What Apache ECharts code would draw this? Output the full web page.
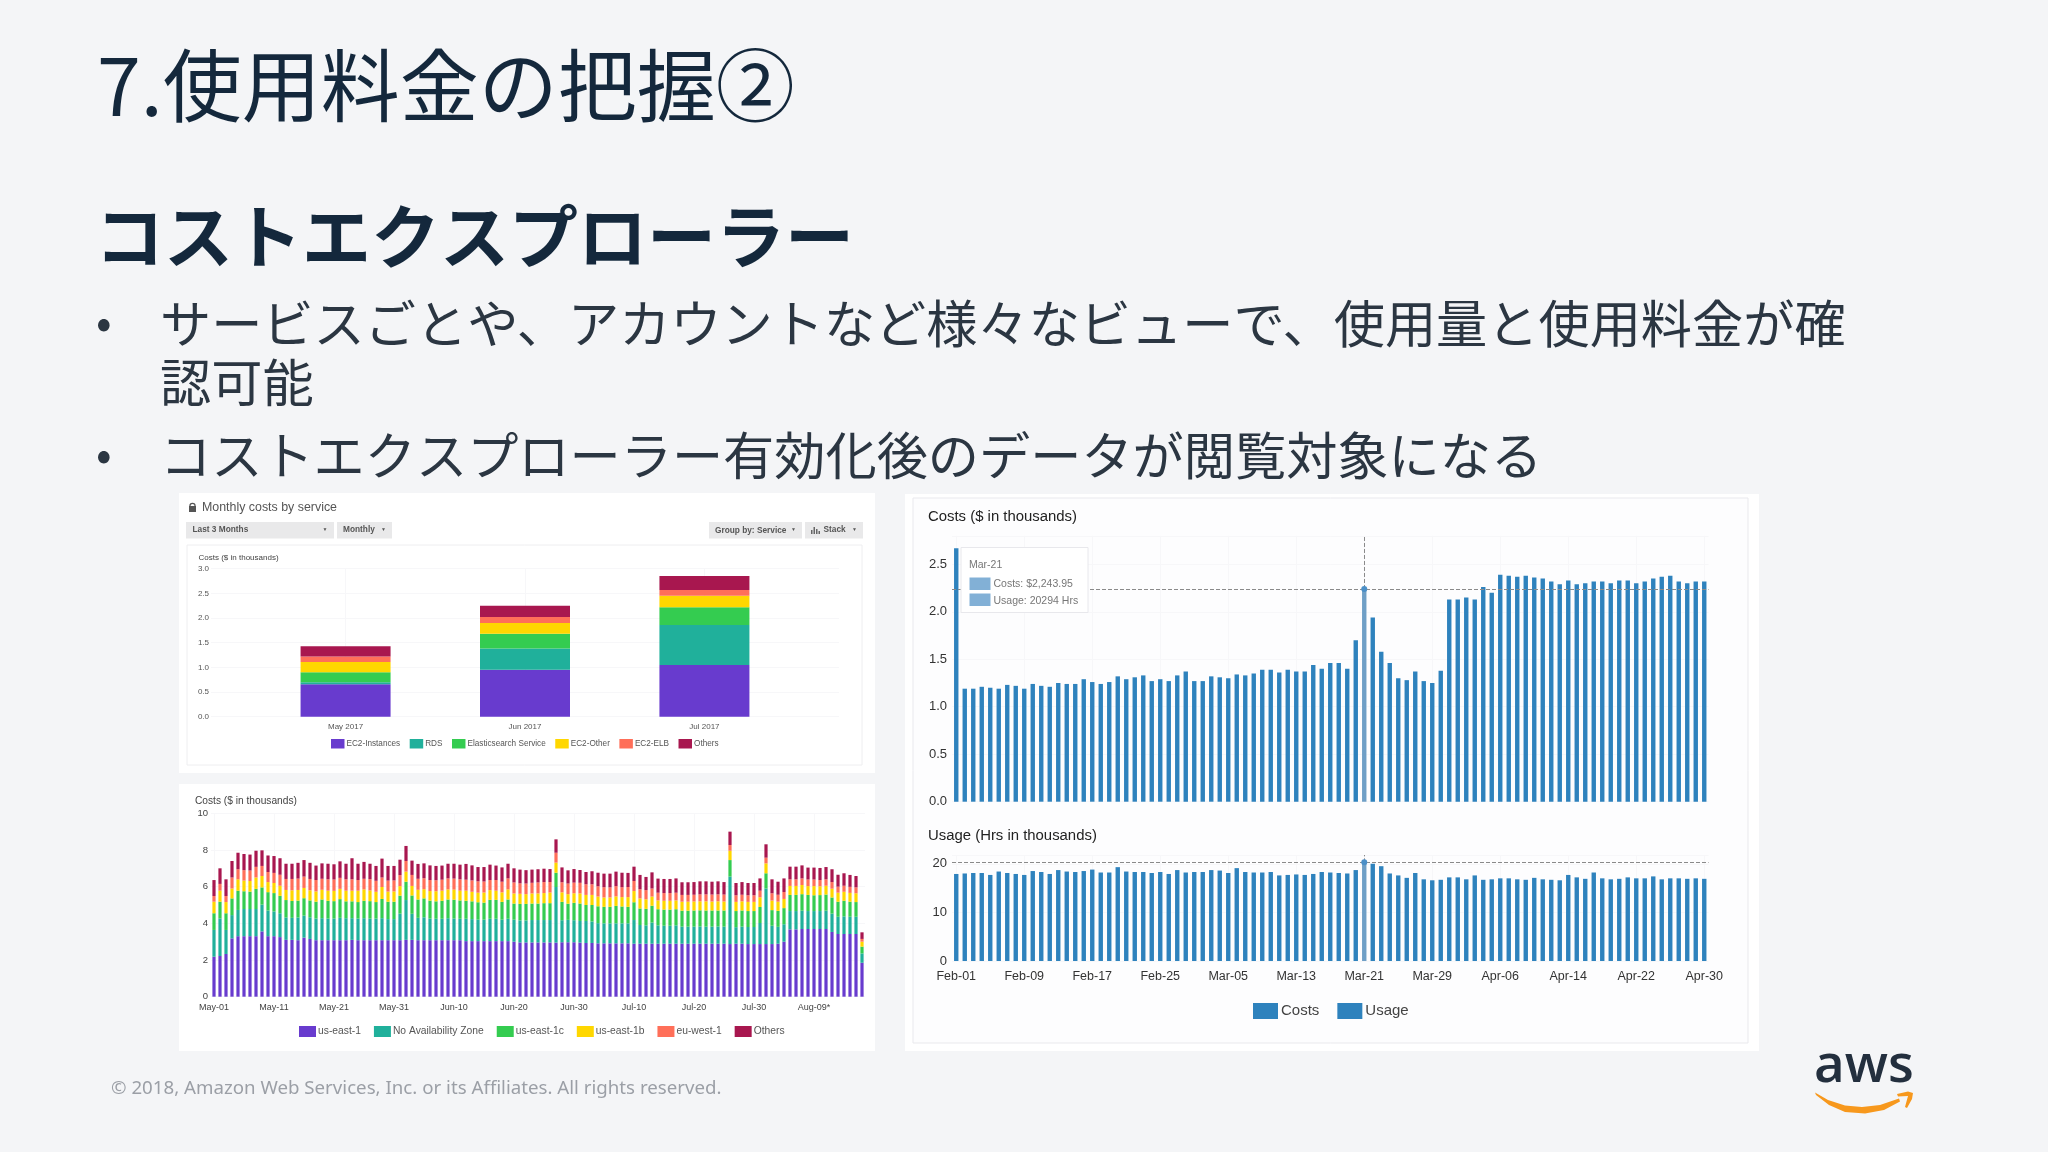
<!DOCTYPE html>
<html lang="ja">
<head>
<meta charset="utf-8">
<title>7.使用料金の把握②</title>
<script src="https://cdn.jsdelivr.net/npm/echarts@6/dist/echarts.min.js"></script>
<style>
    html, body { margin: 0; padding: 0; background: #f4f5f7; }
    #chart { width: 2048px; height: 1152px; }
</style>
</head>
<body>
<div id="chart"></div>
<script>
// Monthly costs by service
const monthNames = ['May 2017', 'Jun 2017', 'Jul 2017'];
const monthlyEc2Instances = [0.66, 0.95, 1.05];
const monthlyRds = [0.04, 0.43, 0.81];
const monthlyElasticsearch = [0.20, 0.30, 0.36];
const monthlyEc2Other = [0.21, 0.22, 0.23];
const monthlyEc2Elb = [0.11, 0.12, 0.12];
const monthlyOthers = [0.21, 0.23, 0.28];
const monthlyNames = ['EC2-Instances', 'RDS', 'Elasticsearch Service', 'EC2-Other', 'EC2-ELB', 'Others'];

// Daily costs by availability zone, May-01 to Aug-17
const dailyEast1 = [
    2.18, 2.22, 2.33, 3.18, 3.30, 3.30, 3.30, 3.30, 3.56, 3.30,
    3.30, 3.25, 3.10, 3.10, 3.08, 3.22, 3.15, 3.08, 3.08, 3.08,
    3.08, 3.08, 3.08, 3.10, 3.08, 3.08, 3.08, 3.08, 3.08, 3.08,
    3.08, 3.08, 3.10, 3.10, 3.08, 3.08, 3.08, 3.08, 3.08, 3.08,
    3.08, 3.08, 3.03, 3.03, 3.03, 3.03, 3.03, 3.03, 3.03, 3.03,
    3.00, 2.96, 2.96, 2.96, 2.96, 2.96, 2.96, 2.95, 2.97, 2.97,
    2.97, 2.95, 2.93, 2.93, 2.91, 2.91, 2.91, 2.91, 2.91, 2.91,
    2.89, 2.89, 2.89, 2.89, 2.89, 2.89, 2.89, 2.89, 2.89, 2.89,
    2.89, 2.89, 2.89, 2.89, 2.89, 2.89, 2.87, 2.89, 2.89, 2.87,
    2.87, 2.87, 2.87, 2.87, 2.89, 3.00, 3.67, 3.67, 3.69, 3.69,
    3.69, 3.69, 3.69, 3.53, 3.42, 3.42, 3.42, 3.42, 1.85
];
const dailyNoZone = [
    1.46, 2.05, 1.31, 1.27, 1.43, 1.48, 1.48, 1.48, 1.46, 1.40,
    1.35, 1.30, 1.22, 1.20, 1.24, 1.20, 1.18, 1.18, 1.20, 1.18,
    1.18, 1.22, 1.20, 1.18, 1.18, 1.20, 1.18, 1.18, 1.20, 1.15,
    1.15, 1.45, 2.17, 1.42, 1.22, 1.25, 1.18, 1.17, 1.17, 1.20,
    1.18, 1.17, 1.22, 1.20, 1.17, 1.17, 1.22, 1.22, 1.17, 1.22,
    1.20, 1.20, 1.20, 1.22, 1.22, 1.22, 1.22, 3.03, 1.20, 1.22,
    1.20, 1.18, 1.20, 1.17, 1.10, 1.09, 1.09, 1.09, 1.09, 1.09,
    1.29, 1.02, 1.00, 1.15, 1.00, 0.98, 0.98, 1.00, 0.93, 0.93,
    0.93, 0.94, 0.93, 0.93, 0.94, 0.93, 3.68, 0.90, 0.93, 0.93,
    0.93, 1.15, 3.03, 1.00, 0.92, 0.95, 1.00, 1.00, 1.00, 0.98,
    0.98, 0.98, 1.00, 1.00, 0.94, 0.96, 0.94, 0.94, 0.51
];
const dailyEast1c = [
    0.91, 0.91, 0.91, 0.91, 1.05, 0.97, 0.95, 1.10, 0.94, 1.00,
    1.00, 0.95, 0.95, 0.92, 0.92, 0.95, 0.92, 0.92, 1.02, 0.97,
    0.95, 1.02, 0.92, 0.92, 0.90, 0.95, 0.95, 0.90, 1.05, 0.95,
    0.95, 0.98, 1.00, 1.00, 1.00, 1.03, 0.98, 0.95, 0.98, 1.02,
    1.03, 1.00, 0.98, 0.97, 0.95, 0.93, 1.03, 1.03, 0.97, 1.05,
    0.88, 0.90, 0.90, 0.90, 0.90, 0.92, 0.92, 0.78, 1.00, 0.88,
    0.95, 0.95, 0.87, 0.90, 0.92, 0.90, 0.90, 0.95, 0.92, 0.90,
    0.97, 0.90, 0.90, 0.92, 0.88, 0.88, 0.88, 0.88, 0.87, 0.87,
    0.88, 0.88, 0.88, 0.88, 0.87, 0.88, 0.90, 0.88, 0.88, 0.87,
    0.87, 0.87, 0.83, 0.85, 0.87, 0.88, 0.88, 0.88, 0.90, 0.88,
    0.86, 0.87, 0.88, 0.88, 0.82, 0.85, 0.82, 0.80, 0.37
];
const dailyEast1b = [
    0.63, 0.60, 0.61, 0.54, 0.62, 0.58, 0.58, 0.62, 0.62, 0.55,
    0.55, 0.55, 0.55, 0.58, 0.58, 0.56, 0.55, 0.56, 0.53, 0.55,
    0.56, 0.56, 0.58, 0.58, 0.62, 0.62, 0.58, 0.56, 0.65, 0.55,
    0.56, 0.52, 0.55, 0.52, 0.53, 0.50, 0.52, 0.55, 0.55, 0.55,
    0.55, 0.53, 0.55, 0.52, 0.52, 0.55, 0.53, 0.50, 0.52, 0.55,
    0.55, 0.55, 0.53, 0.55, 0.55, 0.55, 0.58, 0.55, 0.52, 0.52,
    0.52, 0.55, 0.55, 0.55, 0.53, 0.51, 0.51, 0.52, 0.51, 0.53,
    0.61, 0.55, 0.52, 0.50, 0.48, 0.48, 0.48, 0.48, 0.49, 0.49,
    0.49, 0.49, 0.50, 0.49, 0.50, 0.49, 0.51, 0.50, 0.50, 0.50,
    0.50, 0.53, 0.54, 0.52, 0.50, 0.50, 0.49, 0.49, 0.50, 0.48,
    0.50, 0.48, 0.48, 0.48, 0.49, 0.49, 0.48, 0.48, 0.27
];
const dailyWest1 = [
    0.31, 0.37, 0.33, 0.60, 0.55, 0.57, 0.57, 0.58, 0.55, 0.55,
    0.55, 0.60, 0.60, 0.62, 0.62, 0.62, 0.62, 0.62, 0.60, 0.62,
    0.62, 0.60, 0.62, 0.62, 0.58, 0.58, 0.62, 0.60, 0.52, 0.60,
    0.60, 0.60, 0.58, 0.60, 0.60, 0.60, 0.60, 0.60, 0.60, 0.60,
    0.60, 0.62, 0.60, 0.62, 0.62, 0.60, 0.55, 0.58, 0.58, 0.60,
    0.60, 0.57, 0.58, 0.58, 0.60, 0.60, 0.57, 0.54, 0.55, 0.58,
    0.58, 0.58, 0.58, 0.58, 0.56, 0.56, 0.55, 0.56, 0.54, 0.55,
    0.55, 0.50, 0.50, 0.44, 0.42, 0.42, 0.42, 0.42, 0.37, 0.37,
    0.37, 0.38, 0.38, 0.38, 0.38, 0.38, 0.31, 0.36, 0.36, 0.36,
    0.36, 0.36, 0.31, 0.40, 0.38, 0.38, 0.36, 0.36, 0.36, 0.36,
    0.36, 0.34, 0.35, 0.36, 0.33, 0.33, 0.33, 0.32, 0.15
];
const dailyOthers = [
    0.87, 0.85, 0.91, 0.90, 0.90, 0.88, 0.87, 0.88, 0.85, 0.90,
    0.92, 0.90, 0.83, 0.83, 0.86, 0.90, 0.88, 0.79, 0.84, 0.85,
    0.83, 0.90, 0.85, 1.15, 0.89, 0.92, 0.84, 0.81, 1.03, 0.80,
    0.79, 0.84, 0.82, 0.78, 0.81, 0.81, 0.80, 0.78, 0.77, 0.80,
    0.81, 0.80, 0.86, 0.82, 0.78, 0.79, 0.84, 0.79, 0.78, 0.80,
    0.77, 0.75, 0.73, 0.72, 0.72, 0.73, 0.71, 0.73, 0.81, 0.72,
    0.74, 0.70, 0.67, 0.71, 0.74, 0.74, 0.75, 0.79, 0.79, 0.77,
    0.78, 0.78, 0.72, 0.88, 0.77, 0.77, 0.77, 0.78, 0.69, 0.69,
    0.69, 0.71, 0.71, 0.70, 0.71, 0.68, 0.73, 0.67, 0.69, 0.67,
    0.67, 0.67, 0.73, 0.76, 0.71, 0.74, 0.69, 0.69, 0.71, 0.65,
    0.65, 0.66, 0.67, 0.70, 0.65, 0.68, 0.65, 0.62, 0.36
];
const dailyNames = ['us-east-1', 'No Availability Zone', 'us-east-1c', 'us-east-1b', 'eu-west-1', 'Others'];

// Costs and usage, Feb-01 to Apr-30
const costValues = [
    2.67, 1.19, 1.19, 1.21, 1.20, 1.19, 1.23, 1.22, 1.19, 1.24,
    1.22, 1.21, 1.25, 1.24, 1.24, 1.29, 1.26, 1.24, 1.26, 1.32,
    1.29, 1.31, 1.33, 1.27, 1.29, 1.27, 1.33, 1.37, 1.27, 1.27,
    1.32, 1.31, 1.30, 1.34, 1.33, 1.35, 1.39, 1.39, 1.36, 1.39,
    1.37, 1.37, 1.44, 1.40, 1.46, 1.46, 1.40, 1.70, 2.24, 1.94,
    1.58, 1.46, 1.30, 1.28, 1.37, 1.27, 1.25, 1.38, 2.13, 2.13,
    2.15, 2.13, 2.26, 2.20, 2.39, 2.38, 2.37, 2.38, 2.36, 2.35,
    2.32, 2.29, 2.33, 2.29, 2.30, 2.32, 2.32, 2.30, 2.33, 2.33,
    2.30, 2.32, 2.35, 2.37, 2.38, 2.32, 2.30, 2.32, 2.32
];
const usageValues = [
    17.9, 18.0, 18.1, 18.1, 17.7, 18.4, 18.1, 17.9, 17.7, 18.5,
    18.3, 17.9, 18.7, 18.4, 18.3, 18.5, 18.8, 18.2, 18.2, 19.3,
    18.4, 18.3, 18.3, 18.1, 18.3, 17.9, 18.7, 18.2, 18.3, 18.3,
    18.7, 18.6, 18.1, 19.1, 18.3, 18.2, 18.2, 18.3, 17.6, 17.7,
    17.8, 17.7, 17.9, 18.3, 18.2, 18.1, 18.0, 18.7, 20.29, 20.0,
    19.5, 18.0, 17.6, 17.1, 18.1, 16.8, 16.6, 16.7, 17.2, 17.2,
    16.8, 17.6, 16.7, 16.8, 17.0, 17.0, 16.8, 16.7, 17.1, 16.8,
    16.7, 16.6, 17.7, 17.2, 16.9, 18.2, 17.0, 16.8, 16.9, 17.2,
    17.0, 17.0, 17.4, 16.8, 17.0, 17.0, 16.9, 17.0, 16.9
];
const highlightDay = 'Mar-21';
const highlightCost = 2.24;
const highlightUsage = 20.29;

// Tick labels
const dailyDays = dayLabels('May', 31).concat(dayLabels('Jun', 30), dayLabels('Jul', 31), dayLabels('Aug', 17));
dailyDays[100] = 'Aug-09*';
const usageDays = dayLabels('Feb', 28).concat(dayLabels('Mar', 31), dayLabels('Apr', 30));

const serviceColors = ['#683bce', '#20b09b', '#34cc50', '#ffd700', '#ff6f59', '#a8174f'];
const barBlue = '#2e82bd';
const fontLatin = '"Liberation Sans", Arial, sans-serif';
const fontJa = '"Noto Sans CJK JP", sans-serif';
const gridLine = '#f7f7f9';

function dayLabels(month, days) {
    const labels = [];
    for (let d = 1; d <= days; d++) {
        labels.push(month + '-' + (d < 10 ? '0' + d : d));
    }
    return labels;
}

// Text element for the graphic layer
function text(x, y, content, size, color, extra) {
    const el = {
        type: 'text',
        x: x,
        y: y,
        z: 100,
        style: Object.assign({
            text: content,
            fontSize: size,
            fontFamily: fontLatin,
            fill: color,
            verticalAlign: 'middle'
        }, extra || {})
    };
    return el;
}

function box(x, y, w, h, fill, stroke, z) {
    return {
        type: 'rect',
        z: z,
        shape: { x: x, y: y, width: w, height: h },
        style: { fill: fill, stroke: stroke || 'none', lineWidth: 1 }
    };
}

// Slide text, panels and the logo
function slideElements() {
    const bulletColor = '#2b3642';
    const titleColor = '#14283c';
    const els = [
        // panels
        box(179, 493, 696, 280, '#ffffff', null, -20),
        box(187, 545, 675, 220, '#ffffff', '#eeeef0', -19),
        box(179, 784, 696, 267, '#ffffff', null, -20),
        box(905, 494, 854, 557, '#ffffff', null, -20),
        box(913, 498, 835, 545, '#fdfdfe', '#e9e9ed', -19),

        // heading and bullets
        text(97, 86, '7.使用料金の把握②', 79, titleColor, { fontFamily: fontJa }),
        text(95, 237, 'コストエクスプローラー', 69, titleColor, { fontFamily: fontJa, fontWeight: 'bold' }),
        text(96, 322, '•', 46, bulletColor, { fontFamily: fontJa }),
        text(160, 324, 'サービスごとや、アカウントなど様々なビューで、使用量と使用料金が確', 51.2, bulletColor, { fontFamily: fontJa }),
        text(160, 383, '認可能', 51.2, bulletColor, { fontFamily: fontJa }),
        text(96, 454, '•', 46, bulletColor, { fontFamily: fontJa }),
        text(160, 456, 'コストエクスプローラー有効化後のデータが閲覧対象になる', 51.2, bulletColor, { fontFamily: fontJa }),

        // toolbar of the monthly panel
        box(189, 506, 7, 6, '#555555', null, 100),
        { type: 'arc', z: 100, shape: { cx: 192.5, cy: 506, r: 2.6, startAngle: Math.PI, endAngle: 0 }, style: { stroke: '#555555', fill: 'none', lineWidth: 1.2 } },
        text(202, 507.5, 'Monthly costs by service', 12.4, '#555555'),
        box(186, 522, 148, 16.5, '#e9e9ea', null, -18),
        box(337, 522, 55, 16.5, '#e9e9ea', null, -18),
        box(709, 522, 93, 16.5, '#e9e9ea', null, -18),
        box(805, 522, 58, 16.5, '#e9e9ea', null, -18),
        text(192.5, 530, 'Last 3 Months', 8.3, '#555555', { fontWeight: 'bold' }),
        text(343, 530, 'Monthly', 8.3, '#555555', { fontWeight: 'bold' }),
        text(715, 530.5, 'Group by: Service', 8.3, '#555555', { fontWeight: 'bold' }),
        text(823.5, 530, 'Stack', 8.3, '#555555', { fontWeight: 'bold' }),
        text(322.5, 530, '▼', 5, '#555555'),
        text(381, 530, '▼', 5, '#555555'),
        text(791, 530, '▼', 5, '#555555'),
        text(852, 530, '▼', 5, '#555555'),
        box(811, 530, 1.5, 4, '#666666', null, 100),
        box(813.5, 527, 1.5, 7, '#666666', null, 100),
        box(816, 529, 1.5, 5, '#666666', null, 100),
        box(818.5, 531, 1.5, 3, '#666666', null, 100),

        // axis titles
        text(198.5, 557.5, 'Costs ($ in thousands)', 8, '#444444'),
        text(195, 801, 'Costs ($ in thousands)', 10.2, '#444444'),
        text(928, 517, 'Costs ($ in thousands)', 14.9, '#222222'),
        text(928, 836, 'Usage (Hrs in thousands)', 14.9, '#222222'),

        // pinned tooltip
        box(961, 547.5, 127, 65, '#ffffff', '#e8e8ec', 90),
        text(969, 565, highlightDay, 10.5, '#777777'),
        box(969.5, 577.5, 21, 12.5, '#82b0d6', null, 100),
        box(969.5, 593.5, 21, 12.5, '#82b0d6', null, 100),
        text(993.5, 584.5, 'Costs: $2,243.95', 10.5, '#777777'),
        text(993.5, 601, 'Usage: 20294 Hrs', 10.5, '#777777'),

        // footer and logo
        text(111, 1089, '© 2018, Amazon Web Services, Inc. or its Affiliates. All rights reserved.', 18.7, '#9b9fa6', { fontFamily: '"Noto Sans", sans-serif' }),
        text(1864, 1067, 'aws', 53, '#232f3e', { fontFamily: '"Open Sans", sans-serif', textAlign: 'center', fontWeight: 600 }),
        {
            type: 'polygon',
            z: 100,
            shape: {
                points: [[1815, 1092.5], [1828, 1100], [1845, 1105.5], [1862, 1107], [1880, 1105], [1899, 1098.5], [1900, 1101.5], [1884, 1110], [1865, 1113.5], [1845, 1112], [1829, 1105], [1816, 1095]]
            },
            style: { fill: '#f7981d' }
        },
        {
            type: 'polygon',
            z: 100,
            shape: { points: [[1897, 1094], [1908, 1091.5], [1913, 1093], [1912, 1099], [1907, 1108], [1905, 1107], [1908, 1096], [1898, 1096.5]] },
            style: { fill: '#f7981d' }
        }
    ];
    return els;
}

// The monthly bars sit on half bands so they land where the panel has them
function padMonths(values, blank) {
    return [blank, values[0], blank, values[1], blank, values[2], blank];
}

function stackSeries(name, values, color, axisIndex, stackName, barWidth) {
    return {
        name: name,
        type: 'bar',
        stack: stackName,
        xAxisIndex: axisIndex,
        yAxisIndex: axisIndex,
        barWidth: barWidth,
        itemStyle: { color: color },
        data: values
    };
}

function highlighted(values) {
    return values.map(function(value, i) {
        if (usageDays[i] === highlightDay) {
            return { value: value, itemStyle: { color: '#6f9fc6' } };
        }
        return value;
    });
}

// Dashed crosshair and dot on the highlighted day
function crosshairSeries(name, values, axisIndex, peak, axisMax) {
    return {
        name: name,
        type: 'bar',
        xAxisIndex: axisIndex,
        yAxisIndex: axisIndex,
        barWidth: 4.4,
        itemStyle: { color: barBlue },
        data: highlighted(values),
        markLine: {
            silent: true,
            symbol: 'none',
            label: { show: false },
            lineStyle: { type: 'dashed', color: '#8a8a8a', width: 1 },
            data: [
                { yAxis: peak },
                [{ coord: [highlightDay, peak] }, { coord: [highlightDay, axisMax] }]
            ]
        },
        markPoint: {
            silent: true,
            symbol: 'circle',
            symbolSize: 6,
            label: { show: false },
            itemStyle: { color: '#4b8fc7' },
            data: [{ coord: [highlightDay, peak] }]
        }
    };
}

function categoryAxis(gridIndex, data, labelSize, labelMargin, labelEvery, lineInterval, labelColor, showLabel) {
    return {
        type: 'category',
        gridIndex: gridIndex,
        data: data,
        axisLine: { show: false },
        axisTick: { show: false },
        axisLabel: { show: showLabel, interval: labelEvery - 1, fontSize: labelSize, margin: labelMargin, color: labelColor, hideOverlap: false },
        splitLine: { show: true, interval: lineInterval, alignWithLabel: true, lineStyle: { color: gridLine } }
    };
}

function valueAxis(gridIndex, max, interval, labelSize, labelMargin, decimals, labelColor) {
    return {
        type: 'value',
        gridIndex: gridIndex,
        min: 0,
        max: max,
        interval: interval,
        axisLine: { show: false },
        axisTick: { show: false },
        axisLabel: {
            fontSize: labelSize,
            margin: labelMargin,
            color: labelColor,
            showMaxLabel: max % interval === 0,
            formatter: function(value) {
                return value.toFixed(decimals);
            }
        },
        splitLine: { show: true, lineStyle: { color: gridLine } }
    };
}

const monthlyData = [monthlyEc2Instances, monthlyRds, monthlyElasticsearch, monthlyEc2Other, monthlyEc2Elb, monthlyOthers];
const dailyData = [dailyEast1, dailyNoZone, dailyEast1c, dailyEast1b, dailyWest1, dailyOthers];

const chart = echarts.init(document.getElementById('chart'));

const option = {
    animation: false,
    backgroundColor: '#f4f5f7',
    textStyle: { fontFamily: fontLatin },
    graphic: { elements: slideElements() },
    grid: [
        { left: 211, top: 568.7, width: 628, height: 148 },
        { left: 211, top: 813.3, width: 654, height: 183.4 },
        { left: 952, top: 535.8, width: 756.5, height: 265.9 },
        { left: 952, top: 855, width: 756.5, height: 106 }
    ],
    xAxis: [
        categoryAxis(0, padMonths(monthNames, ''), 8, 6, 1, function(index) { return index % 2 === 1; }, '#555555', true),
        categoryAxis(1, dailyDays, 9, 6, 10, 9, '#444444', true),
        categoryAxis(2, usageDays, 12.5, 9, 8, 7, '#333333', false),
        categoryAxis(3, usageDays, 12.5, 9, 8, 7, '#333333', true)
    ],
    yAxis: [
        valueAxis(0, 3, 0.5, 8, 2, 1, '#555555'),
        valueAxis(1, 10, 2, 9.5, 3, 0, '#444444'),
        valueAxis(2, 2.8, 0.5, 13, 5, 1, '#333333'),
        valueAxis(3, 21.8, 10, 13, 5, 0, '#333333')
    ],
    legend: [
        {
            left: 331,
            top: 739,
            padding: 0,
            itemWidth: 13.5,
            itemHeight: 9.5,
            itemGap: 9.5,
            textStyle: { fontSize: 8.2, color: '#555555', padding: [0, 0, 0, -3] },
            icon: 'rect',
            selectedMode: false,
            data: monthlyNames
        },
        {
            left: 299,
            top: 1026,
            padding: 0,
            itemWidth: 17,
            itemHeight: 11,
            itemGap: 13,
            textStyle: { fontSize: 10.3, color: '#555555', padding: [0, 0, 0, -3] },
            icon: 'rect',
            selectedMode: false,
            data: dailyNames
        },
        {
            left: 1253,
            top: 1003,
            padding: 0,
            itemWidth: 25,
            itemHeight: 16,
            itemGap: 18,
            textStyle: { fontSize: 15, color: '#444444', padding: [0, 0, 0, -2] },
            icon: 'rect',
            selectedMode: false,
            data: ['Costs', 'Usage']
        }
    ],
    series: monthlyNames.map(function(name, i) {
        return stackSeries(name, padMonths(monthlyData[i], null), serviceColors[i], 0, 'monthly', 90);
    }).concat(dailyNames.map(function(name, i) {
        return stackSeries(name, dailyData[i], serviceColors[i], 1, 'daily', 3.2);
    }), [
        crosshairSeries('Costs', costValues, 2, highlightCost, 2.8),
        crosshairSeries('Usage', usageValues, 3, highlightUsage, 21.8)
    ])
};

chart.setOption(option);

// 响应式
window.addEventListener('resize', function() {
    chart.resize();
});
</script>
</body>
</html>
